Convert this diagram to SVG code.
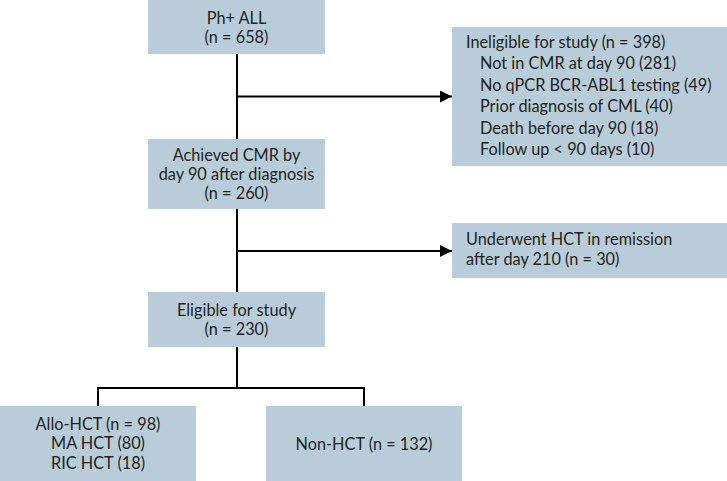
<svg xmlns="http://www.w3.org/2000/svg" width="727" height="481" viewBox="0 0 727 481">
<defs>
<style>
.box{fill:#b8cdd9;}
.t{font-family:Lato,"Noto Sans","Liberation Sans",sans-serif;font-size:16.3px;fill:#231f20;}
.c{text-anchor:middle;}
.ln{stroke:#000;stroke-width:2;fill:none;}
</style>
<marker id="ah" markerUnits="userSpaceOnUse" markerWidth="12" markerHeight="12" viewBox="0 0 12 12" refX="12" refY="6" orient="auto">
<path d="M0,0 L12,6 L0,12 Z" fill="#000"/>
</marker>
</defs>
<g id="connectors">
<line class="ln" x1="237" y1="54" x2="237" y2="139"/>
<line class="ln" x1="237" y1="96.5" x2="452" y2="96.5" marker-end="url(#ah)"/>
<line class="ln" x1="237" y1="209" x2="237" y2="292"/>
<line class="ln" x1="237" y1="251" x2="452" y2="251" marker-end="url(#ah)"/>
<polyline class="ln" points="237,347 237,388"/>
<polyline class="ln" points="98,406 98,388 364,388 364,406"/>
</g>
<g id="n_phall">
<rect class="box" x="148" y="0" width="177" height="54"/>
<text class="t c" x="236.5" y="23.5">Ph+ ALL</text>
<text class="t c" x="236.5" y="42.5">(n = 658)</text>
</g>
<g id="n_ineligible">
<rect class="box" x="452" y="27" width="275" height="139"/>
<text class="t" x="466" y="47.5">Ineligible for study (n = 398)</text>
<text class="t" x="480" y="69">Not in CMR at day 90 (281)</text>
<text class="t" x="480" y="90.5">No qPCR BCR-ABL1 testing (49)</text>
<text class="t" x="480" y="112">Prior diagnosis of CML (40)</text>
<text class="t" x="480" y="133.5">Death before day 90 (18)</text>
<text class="t" x="480" y="155">Follow up &lt; 90 days (10)</text>
</g>
<g id="n_cmr">
<rect class="box" x="148" y="139" width="177" height="70"/>
<text class="t c" x="236.5" y="161">Achieved CMR by</text>
<text class="t c" x="236.5" y="180">day 90 after diagnosis</text>
<text class="t c" x="236.5" y="199">(n = 260)</text>
</g>
<g id="n_underwent">
<rect class="box" x="452" y="223" width="275" height="55"/>
<text class="t" x="466" y="245">Underwent HCT in remission</text>
<text class="t" x="466" y="265">after day 210 (n = 30)</text>
</g>
<g id="n_eligible">
<rect class="box" x="148" y="292" width="177" height="55"/>
<text class="t c" x="236.5" y="316">Eligible for study</text>
<text class="t c" x="236.5" y="335">(n = 230)</text>
</g>
<g id="n_allo">
<rect class="box" x="0" y="406" width="196" height="75"/>
<text class="t c" x="98" y="429.5">Allo-HCT (n = 98)</text>
<text class="t c" x="98" y="449">MA HCT (80)</text>
<text class="t c" x="98" y="468.5">RIC HCT (18)</text>
</g>
<g id="n_nonhct">
<rect class="box" x="266" y="406" width="196" height="75"/>
<text class="t c" x="364" y="450">Non-HCT (n = 132)</text>
</g>
</svg>
